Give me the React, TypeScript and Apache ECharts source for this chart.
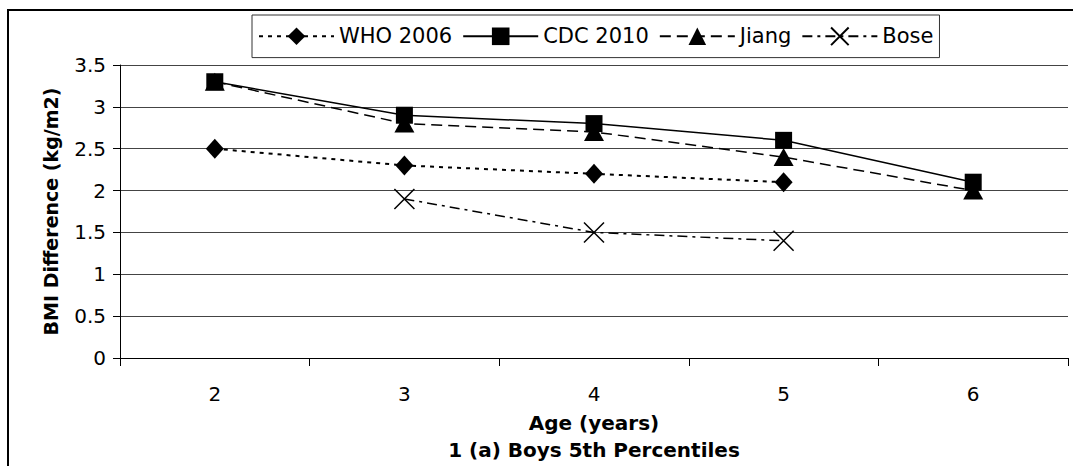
import React, { useEffect, useRef } from "react";
import * as echarts from "echarts";

const ages = ["2", "3", "4", "5", "6"];
const who2006 = [2.5, 2.3, 2.2, 2.1, null];
const cdc2010 = [3.3, 2.9, 2.8, 2.6, 2.1];
const jiang = [3.3, 2.8, 2.7, 2.4, 2.0];
const bose = [null, 1.9, 1.5, 1.4, null];

const FONT = "DejaVu Sans";

export default function App() {
  const ref = useRef<HTMLDivElement>(null);
  useEffect(() => {
    if (!ref.current) return;
    const chart = echarts.init(ref.current, undefined, { renderer: "svg" });
    const mk = (
      name: string,
      data: (number | null)[],
      symbol: string,
      symbolSize: any,
      lineType: any,
      lineWidth: number,
      hollow = false
    ) => ({
      name,
      type: "line",
      data,
      symbol,
      symbolSize,
      showSymbol: true,
      connectNulls: false,
      lineStyle: { color: "#000", width: lineWidth, type: lineType },
      itemStyle: hollow
        ? { color: "none", borderColor: "#000", borderWidth: 1.5 }
        : { color: "#000", borderWidth: 0 },
      emphasis: { disabled: true },
    });
    chart.setOption({
      animation: false,
      textStyle: { fontFamily: FONT },
      legend: {
        left: 252,
        top: 15,
        padding: [10, 6],
        itemGap: 10,
        itemWidth: 75,
        itemHeight: 22,
        borderColor: "#333",
        borderWidth: 1,
        textStyle: { fontFamily: FONT, fontSize: 21, color: "#000" },
        data: ["WHO 2006", "CDC 2010", "Jiang", "Bose"],
      },
      grid: { left: 120, right: 5, top: 65, bottom: 108, containLabel: false },
      xAxis: {
        type: "category",
        data: ages,
        boundaryGap: true,
        name: "Age (years)",
        nameLocation: "middle",
        nameGap: 55,
        nameTextStyle: { fontFamily: FONT, fontSize: 20, fontWeight: "bold", color: "#000" },
        axisLine: { lineStyle: { color: "#000", width: 1 } },
        axisTick: { show: true, alignWithLabel: false, length: 8, lineStyle: { color: "#000" } },
        axisLabel: { fontFamily: FONT, fontSize: 20, color: "#000", margin: 26 },
        splitLine: { show: false },
      },
      yAxis: {
        type: "value",
        min: 0,
        max: 3.5,
        interval: 0.5,
        name: "BMI Difference (kg/m2)",
        nameLocation: "middle",
        nameGap: 60,
        nameTextStyle: { fontFamily: FONT, fontSize: 19, fontWeight: "bold", color: "#000" },
        axisLine: { show: true, lineStyle: { color: "#000", width: 1 } },
        axisTick: { show: true, length: 7, lineStyle: { color: "#000" } },
        axisLabel: { fontFamily: FONT, fontSize: 20, color: "#000", margin: 14 },
        splitLine: { show: true, lineStyle: { color: "#444", width: 1 } },
      },
      graphic: [
        { type: "line", shape: { x1: 7, y1: 10, x2: 1073, y2: 10 }, style: { stroke: "#000", lineWidth: 2 } },
        { type: "line", shape: { x1: 8, y1: 10, x2: 8, y2: 466 }, style: { stroke: "#000", lineWidth: 2 } },
        {
          type: "text",
          x: 594,
          y: 450,
          style: {
            text: "1 (a) Boys 5th Percentiles",
            fontFamily: FONT,
            fontSize: 20,
            fontWeight: "bold",
            fill: "#000",
            align: "center",
            verticalAlign: "middle",
          },
        },
      ],
      series: [
        mk("WHO 2006", who2006, "diamond", [18, 20], [4, 5], 2),
        mk("CDC 2010", cdc2010, "rect", 17, "solid", 1.5),
        mk("Jiang", jiang, "triangle", [20, 18], [11, 6], 1.5),
        mk("Bose", bose, "path://M0,0L10,10M10,0L0,10", 20, [10, 5, 3, 5], 1.5, true),
      ],
    });
    return () => chart.dispose();
  }, []);
  return (
    <div
      ref={ref}
      style={{ position: "fixed", left: 0, top: 0, width: 1073, height: 466, background: "#fff" }}
    />
  );
}
